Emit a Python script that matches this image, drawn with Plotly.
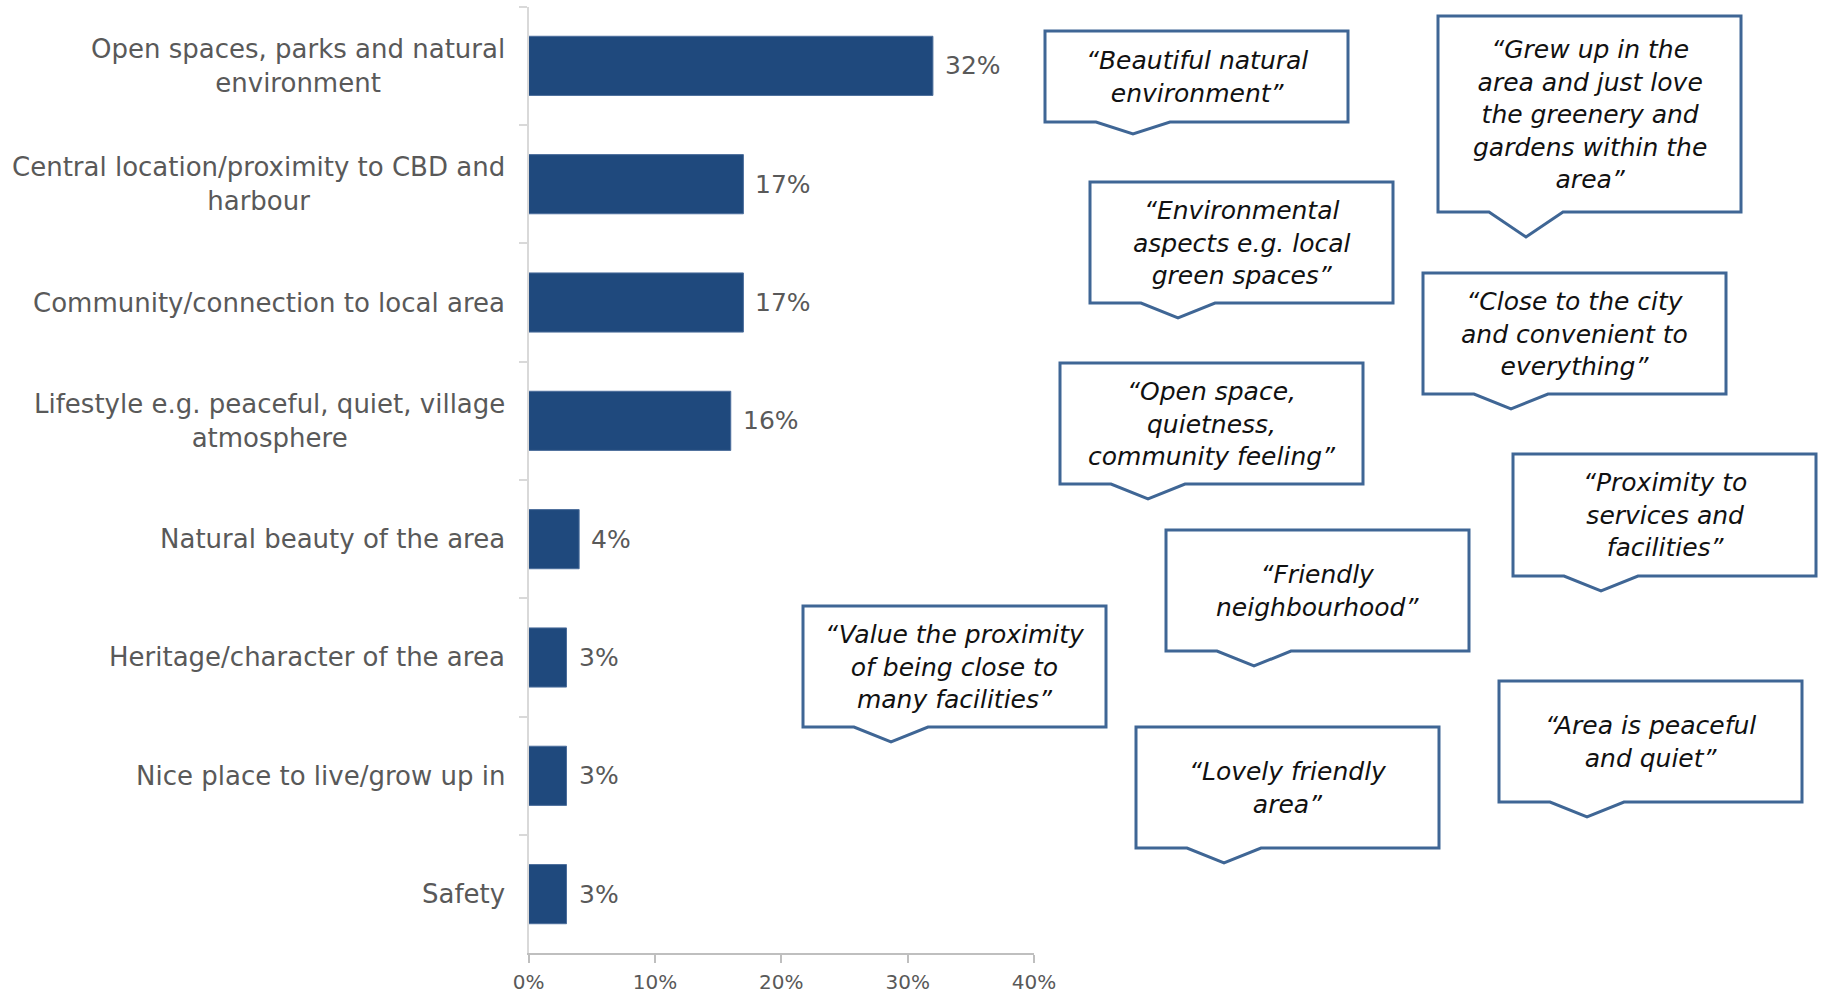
import plotly.graph_objects as go

# Reasons for liking the local area (% of respondents)
categories = [
    "Open spaces, parks and natural<br>environment",
    "Central location/proximity to CBD and<br>harbour",
    "Community/connection to local area",
    "Lifestyle e.g. peaceful, quiet, village<br>atmosphere",
    "Natural beauty of the area",
    "Heritage/character of the area",
    "Nice place to live/grow up in",
    "Safety",
]
shares = [32, 17, 17, 16, 4, 3, 3, 3]

x_ticks = [0, 10, 20, 30, 40]
x_tick_labels = ["0%", "10%", "20%", "30%", "40%"]

# Verbatim comments from residents
quotes = [
    "\u201cBeautiful natural<br>environment\u201d",
    "\u201cGrew up in the<br>area and just love<br>the greenery and<br>gardens within the<br>area\u201d",
    "\u201cEnvironmental<br>aspects e.g. local<br>green spaces\u201d",
    "\u201cClose to the city<br>and convenient to<br>everything\u201d",
    "\u201cOpen space,<br>quietness,<br>community feeling\u201d",
    "\u201cProximity to<br>services and<br>facilities\u201d",
    "\u201cFriendly<br>neighbourhood\u201d",
    "\u201cArea is peaceful<br>and quiet\u201d",
    "\u201cLovely friendly<br>area\u201d",
    "\u201cValue the proximity<br>of being close to<br>many facilities\u201d",
]

# Speech-bubble placement in page pixels: left, top, width, height, tip depth
bubbles = [
    (1045, 31, 303, 91, 12),
    (1438, 16, 303, 196, 25),
    (1090, 182, 303, 121, 15),
    (1423, 273, 303, 121, 15),
    (1060, 363, 303, 121, 15),
    (1513, 454, 303, 122, 15),
    (1166, 530, 303, 121, 15),
    (1499, 681, 303, 121, 15),
    (1136, 727, 303, 121, 15),
    (803, 606, 303, 121, 15),
]

W, H = 1827, 998
GREY = "#595959"
BAR = "#1F497D"
EDGE = "#3F6695"
FONT = "DejaVu Sans"


def px(x):
    return x / W


def py(y):
    return 1 - y / H


fig = go.Figure(
    go.Bar(
        x=shares,
        y=categories,
        orientation="h",
        marker=dict(color=BAR, line=dict(color="#4C6E9C", width=1)),
        hoverinfo="skip",
    )
)

annotations = []
# Category labels, centred line by line, right-aligned against the axis
for cat in categories:
    annotations.append(dict(
        x=0, y=cat, xref="x", yref="y", text=cat, showarrow=False,
        xanchor="right", yanchor="middle", align="center", xshift=-22,
        font=dict(family=FONT, size=26, color=GREY),
    ))
# Value labels beside each bar
for cat, v in zip(categories, shares):
    annotations.append(dict(
        x=v, y=cat, xref="x", yref="y", text=f"{v:.0f}%", showarrow=False,
        xanchor="left", yanchor="middle", xshift=10,
        font=dict(family=FONT, size=25, color=GREY),
    ))

shapes = []
for quote, (left, top, w, h, tip) in zip(quotes, bubbles):
    right, bottom = left + w, top + h
    path = (
        f"M {px(left)},{py(top)} L {px(right)},{py(top)} "
        f"L {px(right)},{py(bottom)} L {px(left + 125)},{py(bottom)} "
        f"L {px(left + 88)},{py(bottom + tip)} L {px(left + 51)},{py(bottom)} "
        f"L {px(left)},{py(bottom)} Z"
    )
    shapes.append(dict(
        type="path", path=path, xref="paper", yref="paper",
        line=dict(color=EDGE, width=3), fillcolor="white", layer="above",
    ))
    annotations.append(dict(
        x=px(left + w / 2), y=py(top + h / 2), xref="paper", yref="paper",
        text=quote, showarrow=False, xanchor="center", yanchor="middle",
        align="center",
        font=dict(family=FONT, size=25, color="#111111", style="italic"),
    ))

fig.update_layout(
    width=W, height=H,
    margin=dict(l=0, r=0, t=0, b=0),
    paper_bgcolor="white", plot_bgcolor="white",
    showlegend=False,
    bargap=0.5,
    xaxis=dict(
        domain=[528.6 / W, 1034 / W], range=[0, 40],
        tickvals=x_ticks, ticktext=x_tick_labels,
        showgrid=False, zeroline=False,
        showline=True, linecolor="#BFBFBF", linewidth=2,
        ticks="outside", ticklen=8, tickwidth=2, tickcolor="#BFBFBF",
        ticklabelstandoff=2,
        tickfont=dict(family=FONT, size=20, color=GREY),
        automargin=False, fixedrange=True,
    ),
    yaxis=dict(
        domain=[1 - 953.3 / H, 1 - 6.7 / H],
        categoryorder="array", categoryarray=categories,
        autorange="reversed",
        showticklabels=False, showgrid=False, zeroline=False,
        showline=True, linecolor="#D9D9D9", linewidth=2,
        ticks="outside", tickson="boundaries", ticklen=8, tickwidth=2,
        tickcolor="#D9D9D9",
        automargin=False, fixedrange=True,
    ),
    shapes=shapes,
    annotations=annotations,
)

fig.write_html("out.html", config={"displayModeBar": False})
